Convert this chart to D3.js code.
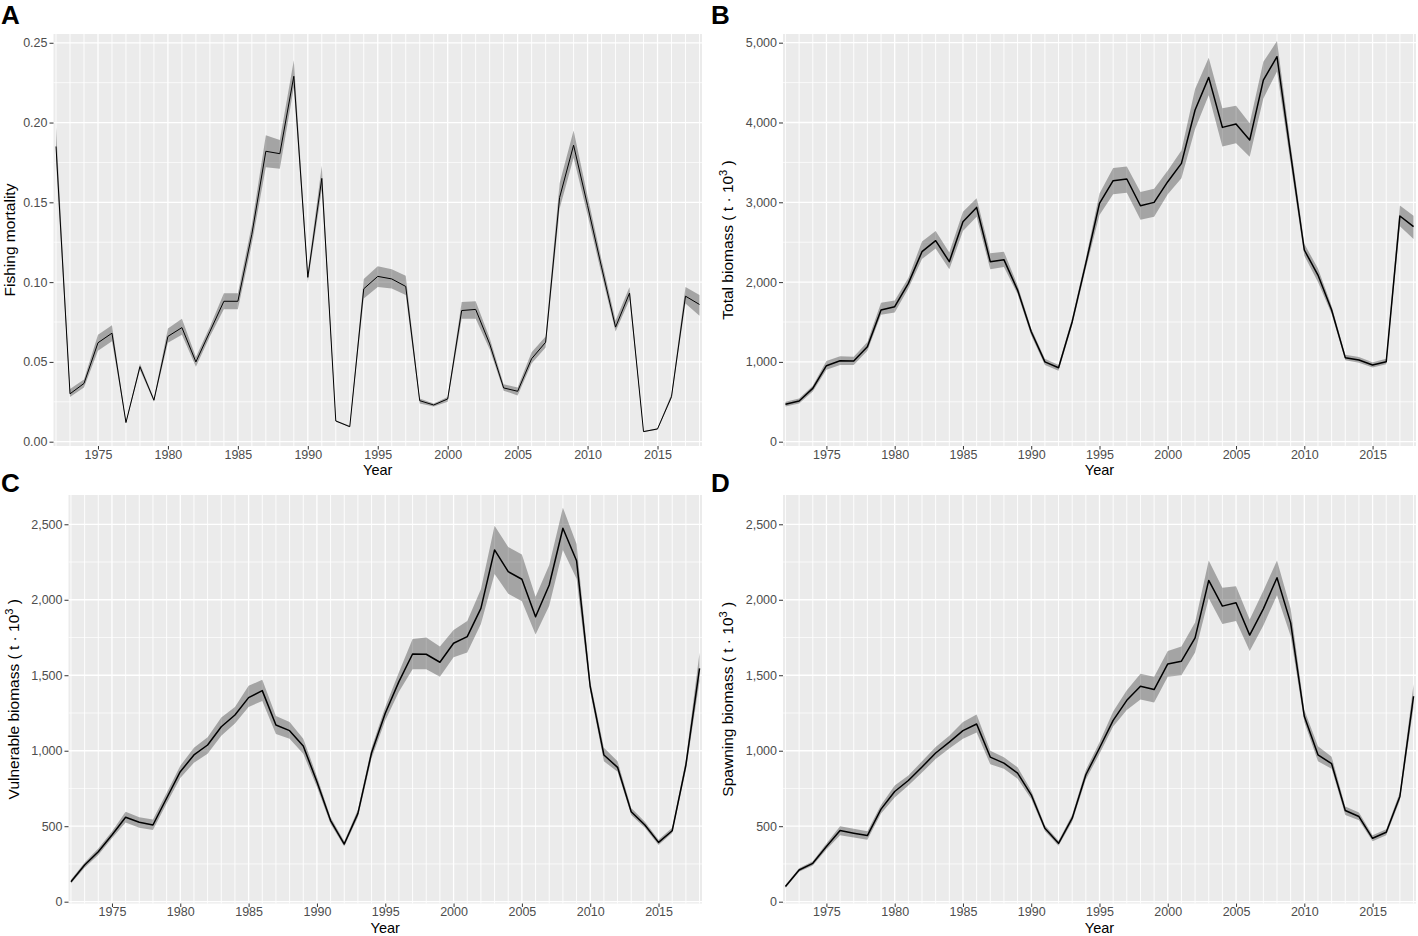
<!DOCTYPE html>
<html>
<head>
<meta charset="utf-8">
<script src="https://cdn.jsdelivr.net/npm/d3@7"></script>
<style>
  body { margin: 0; background: #fff; }
  svg { display: block; font-family: "Liberation Sans", Arial, Helvetica, sans-serif; }
</style>
</head>
<body>
<div id="chart"></div>
<script>
// years on the x axis
var firstYear = 1972;
var lastYear = 2018;
var years = d3.range(firstYear, lastYear + 1);
var yearTicks = [1975, 1980, 1985, 1990, 1995, 2000, 2005, 2010, 2015];

// y tick values
var fishingTicks = [0, 0.05, 0.10, 0.15, 0.20, 0.25];
var totalTicks = [0, 1000, 2000, 3000, 4000, 5000];
var biomassTicks = [0, 500, 1000, 1500, 2000, 2500];

// A - fishing mortality (estimate, lower, upper)
var fishing = [0.185,0.030,0.0365,0.062,0.068,0.012,0.047,0.026,0.066,0.0715,0.050,0.069,0.088,0.088,0.130,0.182,0.1805,0.229,0.103,0.165,0.013,0.0094,0.0958,0.1036,0.102,0.0973,0.0257,0.023,0.0268,0.0822,0.0829,0.0613,0.0337,0.0316,0.052,0.0623,0.153,0.1858,0.148,0.1094,0.0718,0.0931,0.0063,0.008,0.0282,0.0912,0.086];
var fishingLow = [0.176,0.028,0.034,0.057,0.063,0.0115,0.045,0.025,0.062,0.067,0.047,0.066,0.083,0.083,0.124,0.172,0.171,0.222,0.100,0.158,0.0125,0.009,0.0897,0.097,0.096,0.092,0.024,0.022,0.025,0.077,0.077,0.058,0.032,0.029,0.049,0.059,0.146,0.178,0.142,0.105,0.069,0.089,0.006,0.0075,0.027,0.0866,0.079];
var fishingHigh = [0.197,0.033,0.039,0.067,0.073,0.0125,0.049,0.027,0.071,0.077,0.053,0.072,0.093,0.093,0.136,0.192,0.189,0.239,0.106,0.173,0.0135,0.010,0.102,0.110,0.108,0.104,0.027,0.024,0.028,0.0875,0.088,0.065,0.036,0.034,0.056,0.066,0.162,0.195,0.154,0.114,0.076,0.097,0.0067,0.0085,0.030,0.097,0.092];

// B - total biomass (t * 10^3)
var total = [468,510,668,952,1015,1011,1190,1650,1692,1984,2381,2519,2256,2757,2936,2256,2281,1900,1378,1000,927,1504,2235,2987,3271,3292,2957,2999,3258,3488,4156,4565,3939,3981,3780,4532,4824,3600,2402,2088,1650,1053,1023,961,1002,2828,2694];
var totalLow = [440,480,630,900,960,960,1140,1590,1620,1920,2290,2420,2160,2640,2820,2160,2190,1850,1330,960,890,1460,2170,2840,3100,3120,2780,2820,3100,3300,3920,4340,3700,3740,3570,4300,4640,3480,2330,2000,1600,1020,990,930,970,2700,2540];
var totalHigh = [500,540,700,1010,1070,1065,1250,1740,1770,2050,2510,2640,2370,2880,3050,2360,2380,1960,1420,1040,960,1550,2300,3110,3430,3450,3130,3170,3400,3650,4420,4810,4180,4210,3990,4760,5020,3720,2480,2170,1700,1090,1060,995,1040,2960,2830];

// C - vulnerable biomass
var vulnerable = [132,243,331,442,559,526,508,685,861,972,1038,1159,1237,1352,1398,1170,1133,1031,795,537,382,585,987,1248,1458,1641,1639,1586,1712,1756,1943,2330,2186,2136,1888,2098,2474,2259,1424,972,890,596,508,393,470,905,1546];
var vulnerableLow = [120,225,310,420,525,490,475,650,820,920,980,1100,1180,1290,1330,1110,1080,980,760,515,365,560,950,1200,1390,1540,1540,1490,1620,1650,1840,2170,2040,1990,1770,1960,2330,2140,1390,930,860,575,490,375,455,870,1460];
var vulnerableHigh = [145,260,352,465,595,560,545,720,900,1020,1090,1220,1290,1430,1470,1230,1190,1080,830,560,400,610,1020,1290,1520,1740,1750,1690,1800,1860,2070,2490,2350,2300,2020,2230,2610,2370,1460,1020,930,620,530,410,490,940,1650];

// D - spawning biomass
var spawning = [100,210,254,365,471,454,438,613,730,803,892,985,1057,1133,1177,958,918,852,708,487,387,553,841,1018,1201,1334,1427,1405,1575,1593,1748,2128,1958,1980,1766,1940,2146,1847,1228,973,914,604,564,420,460,697,1361];
var spawningLow = [90,198,240,345,440,425,410,585,690,770,855,945,1015,1080,1120,910,880,815,680,468,370,530,810,980,1160,1270,1340,1320,1490,1500,1650,2010,1840,1860,1660,1830,2030,1760,1190,930,880,575,540,400,440,670,1290];
var spawningHigh = [110,222,268,385,500,483,466,640,770,836,930,1025,1100,1190,1240,1000,956,890,736,506,404,576,872,1056,1260,1400,1510,1490,1660,1690,1850,2260,2080,2090,1870,2060,2260,1940,1270,1030,960,630,590,440,480,725,1440];

var svgWidth = 1418;
var svgHeight = 936;

var svg = d3.select('#chart')
    .append('svg')
    .attr('width', svgWidth)
    .attr('height', svgHeight);

var comma = d3.format(',');

// one entry per panel
var panels = [
    { tag: 'A', box: { left: 53.5, right: 702, top: 34, bottom: 446 }, yLim: [-0.0027, 0.2555],
      ticks: fishingTicks, fmt: d3.format('.2f'), mid: fishing, lo: fishingLow, hi: fishingHigh,
      title: 'Fishing mortality', sup: false, titleX: 15, tagX: 1, tagY: 24, lw: 1, yearGap: 29 },
    { tag: 'B', box: { left: 783, right: 1416, top: 34, bottom: 446 }, yLim: [-54, 5109],
      ticks: totalTicks, fmt: comma, mid: total, lo: totalLow, hi: totalHigh,
      title: 'Total biomass', sup: true, titleX: 733, tagX: 711, tagY: 24, lw: 1.5, yearGap: 29 },
    { tag: 'C', box: { left: 68.5, right: 702, top: 495, bottom: 903.5 }, yLim: [-12, 2694],
      ticks: biomassTicks, fmt: comma, mid: vulnerable, lo: vulnerableLow, hi: vulnerableHigh,
      title: 'Vulnerable biomass', sup: true, titleX: 19, tagX: 1, tagY: 492, lw: 1.5, yearGap: 29 },
    { tag: 'D', box: { left: 783, right: 1416, top: 495, bottom: 903.5 }, yLim: [-12, 2694],
      ticks: biomassTicks, fmt: comma, mid: spawning, lo: spawningLow, hi: spawningHigh,
      title: 'Spawning biomass', sup: true, titleX: 733, tagX: 711, tagY: 492, lw: 1.5, yearGap: 29 }
];

panels.forEach(function (p, i) {
    var b = p.box;
    var w = b.right - b.left;
    var h = b.bottom - b.top;

    var x = d3.scaleLinear().domain([firstYear - 0.18, lastYear + 0.18]).range([0, w]);
    var y = d3.scaleLinear().domain(p.yLim).range([h, 0]);

    var g = svg.append('g').attr('transform', `translate(${b.left}, ${b.top})`);

    g.append('clipPath').attr('id', 'clip' + i)
        .append('rect').attr('width', w).attr('height', h);

    // grey panel
    g.append('rect')
        .attr('width', w)
        .attr('height', h)
        .attr('fill', '#EBEBEB');

    // minor horizontal grid at half steps
    var minor = d3.pairs(p.ticks).map(function (d) { return (d[0] + d[1]) / 2; });
    g.selectAll('.hminor').data(minor).enter().append('line')
        .attr('x1', 0).attr('x2', w)
        .attr('y1', d => y(d)).attr('y2', d => y(d))
        .attr('stroke', '#fff').attr('stroke-width', 0.7);

    g.selectAll('.hmajor').data(p.ticks).enter().append('line')
        .attr('x1', 0).attr('x2', w)
        .attr('y1', d => y(d)).attr('y2', d => y(d))
        .attr('stroke', '#fff').attr('stroke-width', 1.3);

    // a vertical line for every year
    g.selectAll('.vgrid').data(years).enter().append('line')
        .attr('x1', d => x(d)).attr('x2', d => x(d))
        .attr('y1', 0).attr('y2', h)
        .attr('stroke', '#fff')
        .attr('stroke-width', d => yearTicks.indexOf(d) >= 0 ? 1.3 : 0.9);

    var plot = g.append('g').attr('clip-path', `url(#clip${i})`);

    // uncertainty band
    var band = d3.area()
        .x((d, k) => x(years[k]))
        .y0((d, k) => y(p.lo[k]))
        .y1((d, k) => y(p.hi[k]));

    plot.append('path')
        .datum(p.mid)
        .attr('d', band)
        .attr('fill', '#000')
        .attr('fill-opacity', 0.3);

    var line = d3.line()
        .x((d, k) => x(years[k]))
        .y(d => y(d));

    plot.append('path')
        .datum(p.mid)
        .attr('d', line)
        .attr('fill', 'none')
        .attr('stroke', '#000')
        .attr('stroke-width', p.lw)
        .attr('stroke-linejoin', 'round');

    // axes
    var leftAxis = d3.axisLeft(y).tickValues(p.ticks).tickFormat(p.fmt).tickSize(4).tickPadding(2);
    var bottomAxis = d3.axisBottom(x).tickValues(yearTicks).tickFormat(d3.format('d')).tickSize(3.5).tickPadding(0.5);

    var ga = g.append('g').call(leftAxis);
    var gb = g.append('g').attr('transform', `translate(0, ${h})`).call(bottomAxis);

    [ga, gb].forEach(function (a) {
        a.select('.domain').remove();
        a.selectAll('.tick line').attr('stroke', '#333').attr('stroke-width', 1);
        a.selectAll('.tick text')
            .attr('fill', '#4D4D4D')
            .style('font-size', '12.5px')
            .style('font-family', '"Liberation Sans", Arial, Helvetica, sans-serif');
    });

    // x title
    svg.append('text')
        .attr('x', b.left + w / 2)
        .attr('y', b.bottom + p.yearGap)
        .attr('text-anchor', 'middle')
        .style('font-size', '14.5px')
        .text('Year');

    // y title, with t * 10^3 unit for the biomass panels
    var yt = svg.append('text')
        .attr('transform', `translate(${p.titleX}, ${b.top + h / 2}) rotate(-90)`)
        .attr('text-anchor', 'middle')
        .style('font-size', '15.5px');

    if (p.sup) {
        yt.append('tspan').text(p.title + ' ( t \u00B7 10');
        yt.append('tspan').attr('dy', -6.5).style('font-size', '11px').text('3');
        yt.append('tspan').attr('dy', 6.5).text(' )');
    } else {
        yt.text(p.title);
    }

    // panel tag
    svg.append('text')
        .attr('x', p.tagX)
        .attr('y', p.tagY)
        .style('font-size', '26px')
        .style('font-weight', 'bold')
        .text(p.tag);
});
</script>
</body>
</html>
